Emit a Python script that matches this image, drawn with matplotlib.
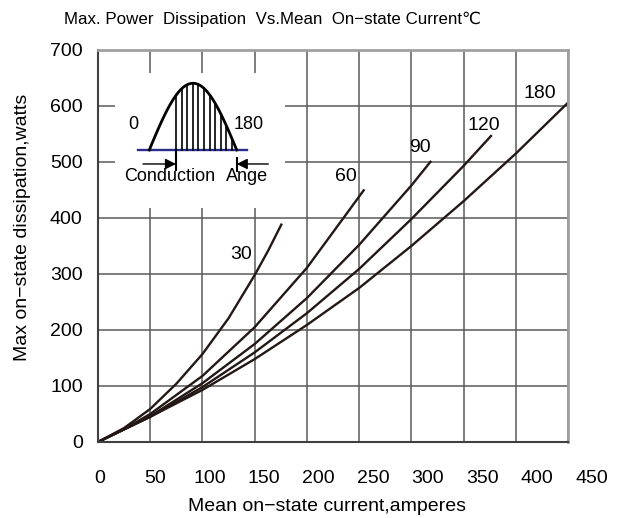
import numpy as np
import matplotlib
matplotlib.use("Agg")
import matplotlib.pyplot as plt

plt.rcParams['font.family'] = ['Liberation Sans', 'DejaVu Sans']

# curves: conduction angle -> (current A, power W)
i30 = [0, 25, 50, 75, 100, 125, 150, 163, 176]
p30 = [0, 25, 59, 104, 157, 221, 298, 342, 390]
i60 = [0, 25, 50, 100, 150, 200, 235, 255]
p60 = [0, 23, 50, 118, 205, 311, 400, 451]
i90 = [0, 50, 100, 150, 200, 250, 300, 319]
p90 = [0, 46, 105, 175, 257, 352, 458, 502]
i120 = [0, 50, 100, 150, 200, 250, 300, 350, 377]
p120 = [0, 45, 98, 160, 230, 309, 398, 493, 548]
i180 = [0, 50, 100, 150, 200, 250, 300, 350, 400, 450]
p180 = [0, 45, 93, 148, 209, 275, 350, 430, 515, 606]

curves = [(i30, p30), (i60, p60), (i90, p90), (i120, p120), (i180, p180)]
names = ['30', '60', '90', '120', '180']
name_x = [137, 237, 308, 369, 423]
name_y = [334, 474, 525, 566, 623]

xticks = [0, 50, 100, 150, 200, 250, 300, 350, 400, 450]
yticks = [0, 100, 200, 300, 400, 500, 600, 700]

fs = 14
W, H = 618, 518
fig = plt.figure(figsize=(W / 100, H / 100), dpi=100)
ax = fig.add_axes([98 / W, 1 - 442 / H, 470 / W, 392 / H])

ln = '#231815'
for (xx, yy) in curves:
    ax.plot(xx, yy, color=ln, lw=1.7, solid_capstyle='butt')
for t, x, y in zip(names, name_x, name_y):
    ax.text(x, y, t, fontsize=fs, ha='center', va='center')

ax.set_xlim(0, 450)
ax.set_ylim(0, 700)
ax.set_xticks(xticks)
ax.set_yticks(yticks)
ax.grid(True, color='#5a5a5a', lw=1.1)
ax.set_axisbelow(True)
ax.tick_params(length=0, labelsize=fs)
ax.tick_params(axis='y', pad=11)
ax.set_xticklabels([])
for s in ['left', 'bottom']:
    ax.spines[s].set_color('#404040')
    ax.spines[s].set_linewidth(1.5)
for s in ['top', 'right']:
    ax.spines[s].set_color('#a0a0a0')
    ax.spines[s].set_linewidth(2)

ax.set_ylabel('Max on\u2212state dissipation,watts', fontsize=fs)
ax.yaxis.label.set_va('center')
ax.yaxis.set_label_coords(-0.16, 0.548)
ax.set_xlabel('Mean on\u2212state current,amperes', fontsize=fs)
ax.xaxis.label.set_va('center')
ax.xaxis.set_label_coords(0.487, -0.165)

# x tick labels sit on a slightly wider scale than the grid in the original
lab = fig.add_axes([100 / W, 1 - 442 / H, 492 / W, 392 / H])
lab.patch.set_visible(False)
for s in lab.spines.values():
    s.set_visible(False)
lab.set_xlim(0, 450)
lab.set_xticks(xticks)
lab.set_yticks([])
lab.tick_params(length=0, labelsize=fs, pad=20)

fig.text(272 / W, 1 - 19 / H,
         'Max. Power  Dissipation  Vs.Mean  On\u2212state Current\u2103',
         fontsize=12.2, ha='center', va='center')

# inset sketch of the conduction angle
ins = fig.add_axes([115 / W, 1 - 208 / H, 170 / W, 135 / H])
ins.set_xlim(-70.6, 279.4)
ins.set_ylim(-0.87, 1.154)
ins.axis('off')
ins.add_patch(plt.Rectangle((0, 0), 1, 1, transform=ins.transAxes,
                            color='white', zorder=0))

deg = np.linspace(0, 180, 91)
ins.plot([-22.6, 200.6], [0, 0], color='#2b2e8c', lw=1.7)
ins.plot(deg, np.sin(np.radians(deg)), color='k', lw=2)
hatch = [55, 66.5, 78, 89.5, 101, 112.5, 124, 135.5, 147, 158.5, 170]
for d in hatch:
    ins.plot([d, d], [0, np.sin(np.radians(d))], color='k', lw=1.2)
ins.plot([55, 55], [-0.3, 0], color='k', lw=1.5)
ins.plot([180, 180], [-0.12, -0.32], color='k', lw=1.5)
ins.annotate('', xy=(55, -0.21), xytext=(-13, -0.21),
             arrowprops=dict(arrowstyle='-|>', color='k', lw=1,
                             mutation_scale=16, shrinkA=0, shrinkB=0))
ins.annotate('', xy=(180, -0.21), xytext=(245, -0.21),
             arrowprops=dict(arrowstyle='-|>', color='k', lw=1,
                             mutation_scale=16, shrinkA=0, shrinkB=0))
ins.text(-33, 0.375, '0', fontsize=13, ha='center', va='center')
ins.text(204, 0.375, '180', fontsize=13, ha='center', va='center')
ins.text(42.6, -0.4, 'Conduction', fontsize=13, ha='center', va='center')
ins.text(201, -0.4, 'Ange', fontsize=13, ha='center', va='center')

fig.savefig('out.png', dpi=100)
